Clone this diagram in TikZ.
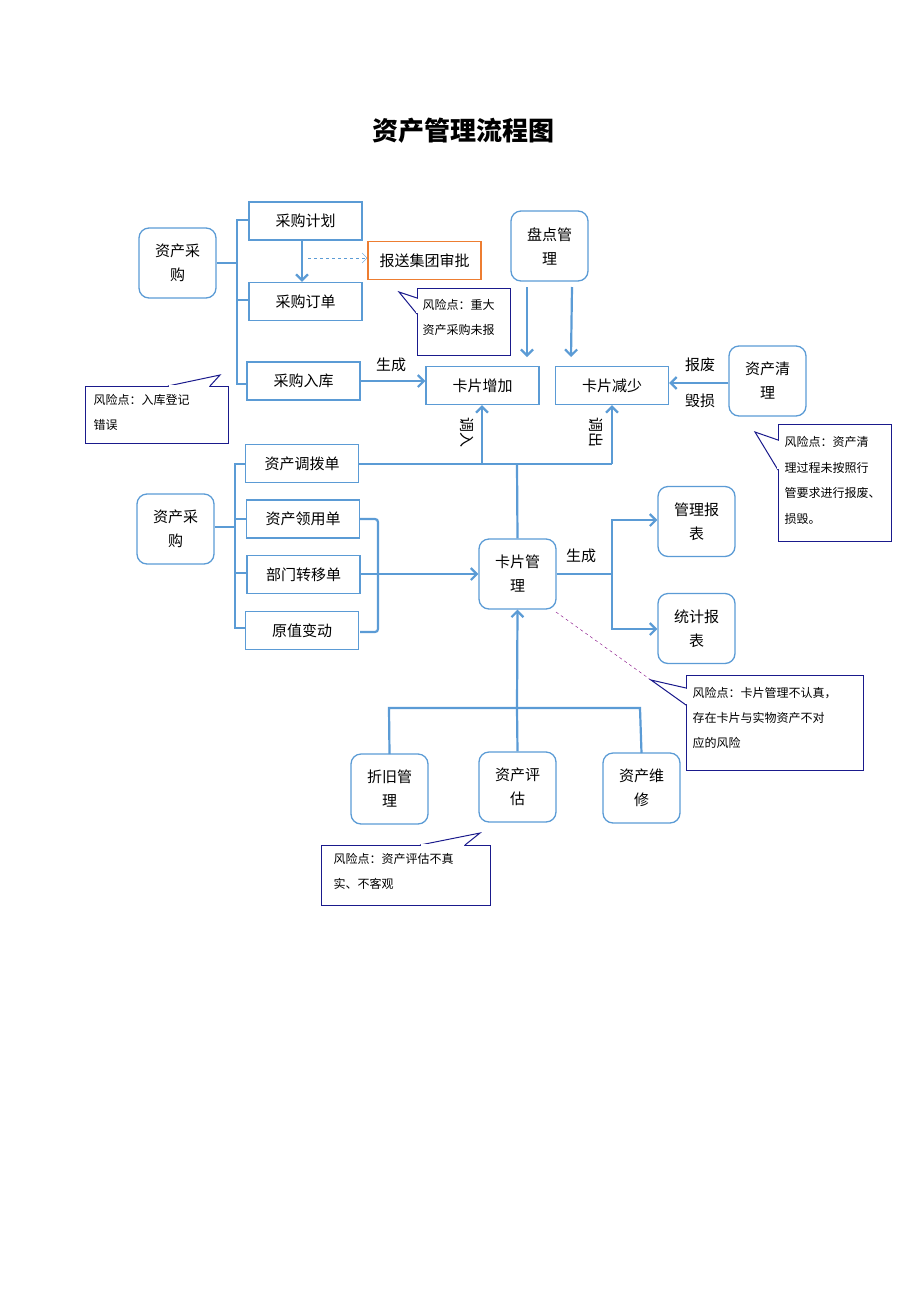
\documentclass[tikz,border=0pt]{standalone}
\usepackage{fontspec}
\setmainfont{Noto Sans CJK SC}
\usetikzlibrary{arrows.meta}
\definecolor{bl}{HTML}{5B9BD5}
\definecolor{nv}{HTML}{1A1A8C}
\definecolor{og}{HTML}{ED7D31}
\tikzset{
 box/.style={draw=bl,line width=1.3pt,minimum width=113pt,minimum height=38pt,font=\fontsize{15}{18}\selectfont},
 rbox/.style={draw=bl,line width=1.3pt,rounded corners=10pt,minimum width=77pt,minimum height=70pt,align=center,font=\fontsize{15}{24}\selectfont},
 con/.style={draw=bl,line width=2.2pt},
 arr/.style={con,-{Straight Barb[length=6pt,width=12pt]}},
 call/.style={draw=nv,line width=1pt,fill=white},
 ctext/.style={align=left,anchor=north west,font=\fontsize{12}{25}\selectfont},
 lab/.style={font=\fontsize{15}{18}\selectfont}
}
\begin{document}
\begin{tikzpicture}[x=1pt,y=-1pt]
\useasboundingbox (0,0) rectangle (920,1302);
\node[font=\bfseries\fontsize{26}{30}\selectfont] (title) at (463,131) {资产管理流程图};
% top group
\node[rbox] (zc1) at (177.5,263) {资产采\\购};
\node[box] (cgjh) at (305.5,221) {采购计划};
\node[box] (cgdd) at (305.5,301.5) {采购订单};
\node[box] (cgrk) at (303.5,381) {采购入库};
\node[box,draw=og] (bs) at (424.5,260.5) {报送集团审批};
\draw[con] (zc1.east|-0,263) -- (237,263);
\draw[con] (249,220) -- (237,220) -- (237,384) -- (247,384);
\draw[con] (237,300) -- (249,300);
\draw[arr] (302,240) -- (cgdd.north-|302,0);
\draw[draw=bl,dashed,-{Straight Barb[length=5pt,width=10pt]}] (308,258) -- (bs.west|-0,258);
\node[rbox] (pd) at (549.5,246) {盘点管\\理};
\node[box] (kpzj) at (482.5,385.5) {卡片增加};
\node[box] (kpjs) at (612,385.5) {卡片减少};
\node[rbox] (zcql) at (767.5,381) {资产清\\理};
\draw[arr] (527,287) -- (527,357);
\draw[arr] (572,287) -- (571,357);
\draw[arr] (cgrk.east|-0,381) -- (kpzj.west|-0,381);
\node[lab] (sc1) at (391,365) {生成};
\draw[arr] (zcql.west|-0,383) -- (kpjs.east|-0,383);
\node[lab] (bf) at (700,365) {报废};
\node[lab] (hs) at (700,401) {毁损};
% callouts top
\draw[call] (417,288) rectangle (510,355);
\draw[call] (417,298) -- (399,292) -- (417,314);
\draw[white,line width=1.5pt] (417,299) -- (417,313);
\node[ctext] (c1) at (419,296) {风险点：重大\\资产采购未报};
\draw[call] (85,386) rectangle (228,443);
\draw[call] (168,386) -- (220,375) -- (210,386);
\draw[white,line width=1.5pt] (169,386) -- (209,386);
\node[ctext] (c2) at (90,391) {风险点：入库登记\\错误};
\draw[call] (778,424) rectangle (891,541);
\draw[call] (778,440) -- (755,432) -- (778,470);
\draw[white,line width=1.5pt] (778,441) -- (778,469);
\node[ctext,font=\fontsize{12}{25.5}\selectfont] (c3) at (781,433) {风险点：资产清\\理过程未按照行\\管要求进行报废、\\损毁。};
% middle group
\node[rbox] (zc2) at (175.5,529) {资产采\\购};
\node[box] (zcdb) at (302,463.5) {资产调拨单};
\node[box] (zcly) at (303,519) {资产领用单};
\node[box] (bmzy) at (303.5,574.5) {部门转移单};
\node[box] (yzbd) at (302,630.5) {原值变动};
\draw[con] (zc2.east|-0,527) -- (235,527);
\draw[con] (245,464) -- (235,464) -- (235,628) -- (245,628);
\draw[con] (235,519) -- (246,519);
\draw[con] (235,573) -- (247,573);
\draw[con,rounded corners=3pt] (360,519) -- (378,519) -- (378,632) -- (360,632);
\draw[con] (zcdb.east|-0,464) -- (612,464);
\draw[arr] (482,464) -- (kpzj.south-|482,0);
\draw[arr] (612,464) -- (kpjs.south-|612,0);
\node[lab,rotate=-90] (dr) at (467,432) {调入};
\node[lab,rotate=-90] (dc) at (596,432) {调出};
\node[rbox] (kpgl) at (517.5,574) {卡片管\\理};
\draw[con] (517,464) -- (kpgl.north);
\draw[arr] (bmzy.east|-0,574) -- (kpgl.west|-0,574);
\node[rbox] (glbb) at (696.5,521.5) {管理报\\表};
\node[rbox] (tjbb) at (696.5,628.5) {统计报\\表};
\node[lab] (sc2) at (581,556) {生成};
\draw[con] (kpgl.east|-0,574) -- (612,574);
\draw[arr] (612,574) |- (glbb.west|-0,520);
\draw[arr] (612,574) |- (tjbb.west|-0,629);
\draw[violet,dashed] (556,612) -- (651,680);
\draw[call] (686,675) rectangle (863,770);
\draw[call] (686,688) -- (651,680) -- (686,705);
\draw[white,line width=1.5pt] (686,689) -- (686,704);
\node[ctext] (c4) at (689,684) {风险点：卡片管理不认真，\\存在卡片与实物资产不对\\应的风险};
% bottom
\node[rbox] (zjgl) at (389.5,789) {折旧管\\理};
\node[rbox] (zcpg) at (517.5,787) {资产评\\估};
\node[rbox] (zcwx) at (641.5,788) {资产维\\修};
\draw[arr] (517,708) -- (kpgl.south);
\draw[con] (zjgl.north|-0,754) -- (389,708) -- (640,708) -- (zcwx.north|-0,753);
\draw[con] (517,708) -- (zcpg.north);
\draw[call] (321,845) rectangle (490,905);
\draw[call] (420,845) -- (480,833) -- (465,845);
\draw[white,line width=1.5pt] (421,845) -- (464,845);
\node[ctext] (c5) at (330,850) {风险点：资产评估不真\\实、不客观};
\end{tikzpicture}
\end{document}
